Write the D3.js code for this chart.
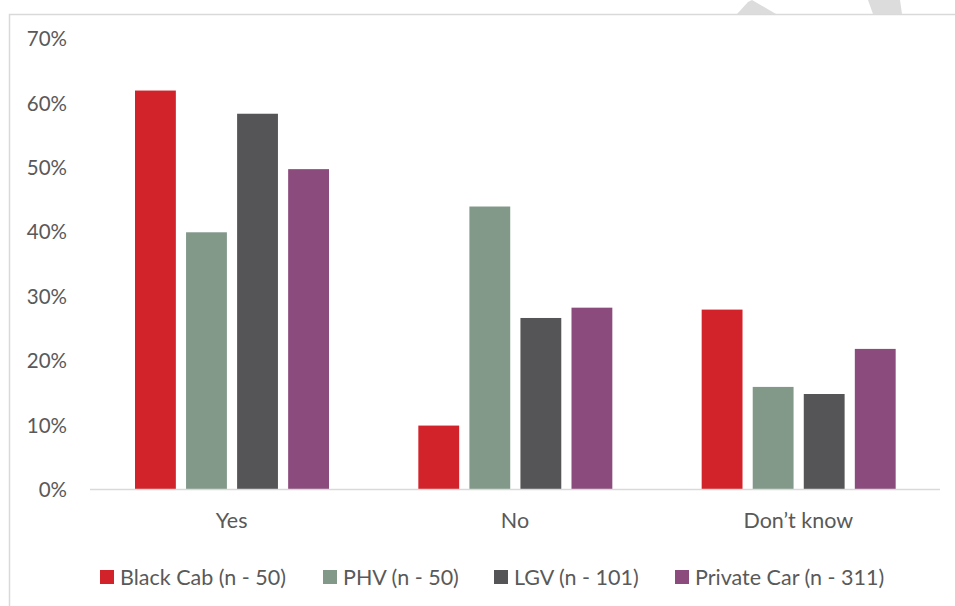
<!DOCTYPE html>
<html><head><meta charset="utf-8">
<script src="https://cdn.jsdelivr.net/npm/d3@7"></script>
<style>body{margin:0;background:#fff}svg{display:block}</style>
</head><body>
<script>
const categories = ["Yes", "No", "Don\u2019t know"];
const seriesNames = ["Black Cab (n - 50)", "PHV (n - 50)", "LGV (n - 101)", "Private Car (n - 311)"];
const blackCab = [62, 10, 28];
const phv = [40, 44, 16];
const lgv = [58.4, 26.7, 14.9];
const privateCar = [49.8, 28.3, 21.9];
const yTicks = [0, 10, 20, 30, 40, 50, 60, 70];
const colors = ["#D2232A", "#82998A", "#555557", "#8B4B7C"];

const series = [blackCab, phv, lgv, privateCar];
const W = 955, H = 606;
const svg = d3.select("body").append("svg").attr("width", W).attr("height", H);
const font = "Lato, 'Open Sans', sans-serif";

// chart border
svg.append("rect").attr("x", 9.5).attr("y", 14.5).attr("width", 1000).attr("height", 700)
  .attr("fill", "none").attr("stroke", "#D9D9D9").attr("stroke-width", 1.5);

const x0 = d3.scaleBand().domain(categories).range([90, 940]).paddingInner(0).paddingOuter(0);
const x1 = d3.scaleBand().domain(d3.range(series.length)).range([45, 45 + 194]).paddingInner(0.2).paddingOuter(0);
const y = d3.scaleLinear().domain([0, 70]).range([490, 39]);

// y tick labels
svg.append("g").selectAll("text").data(yTicks).join("text")
  .attr("x", 67).attr("y", d => y(d)).attr("dy", "0.35em")
  .attr("text-anchor", "end").attr("font-family", font).attr("font-size", 20.5)
  .attr("fill", "#595959").text(d => d + "%");

// bars
const groups = svg.append("g").selectAll("g").data(categories).join("g")
  .attr("transform", c => `translate(${x0(c)},0)`);
groups.selectAll("rect").data((c, ci) => series.map((s, si) => ({si, v: s[ci]}))).join("rect")
  .attr("x", d => x1(d.si)).attr("width", x1.bandwidth())
  .attr("y", d => y(d.v)).attr("height", d => y(0) - y(d.v))
  .attr("fill", d => colors[d.si]);

// baseline
svg.append("line").attr("x1", 90).attr("x2", 940).attr("y1", 489.5).attr("y2", 489.5)
  .attr("stroke", "#D9D9D9").attr("stroke-width", 1.5);

// category labels
svg.append("g").selectAll("text").data(categories).join("text")
  .attr("x", c => x0(c) + x0.bandwidth() / 2).attr("y", 528)
  .attr("text-anchor", "middle").attr("font-family", font).attr("font-size", 21.5)
  .attr("fill", "#595959").text(c => c);

// legend
const legendX = [100, 323, 494, 675];
const lg = svg.append("g").selectAll("g").data(seriesNames).join("g")
  .attr("transform", (d, i) => `translate(${legendX[i]},570)`);
lg.append("rect").attr("width", 14).attr("height", 14).attr("fill", (d, i) => colors[i]);
lg.append("text").attr("x", 20).attr("y", 7).attr("dy", "0.36em")
  .attr("font-family", font).attr("font-size", 21.5).attr("fill", "#595959").text(d => d);

// watermark fragments at top
svg.append("path").attr("d", "M737,14 L748,2 L752,0 L776,14 Z").attr("fill", "#DCDCDC");
svg.append("path").attr("d", "M868,0 L900,0 L902,14 L873,14 Z").attr("fill", "#DCDCDC");
</script>
</body></html>
